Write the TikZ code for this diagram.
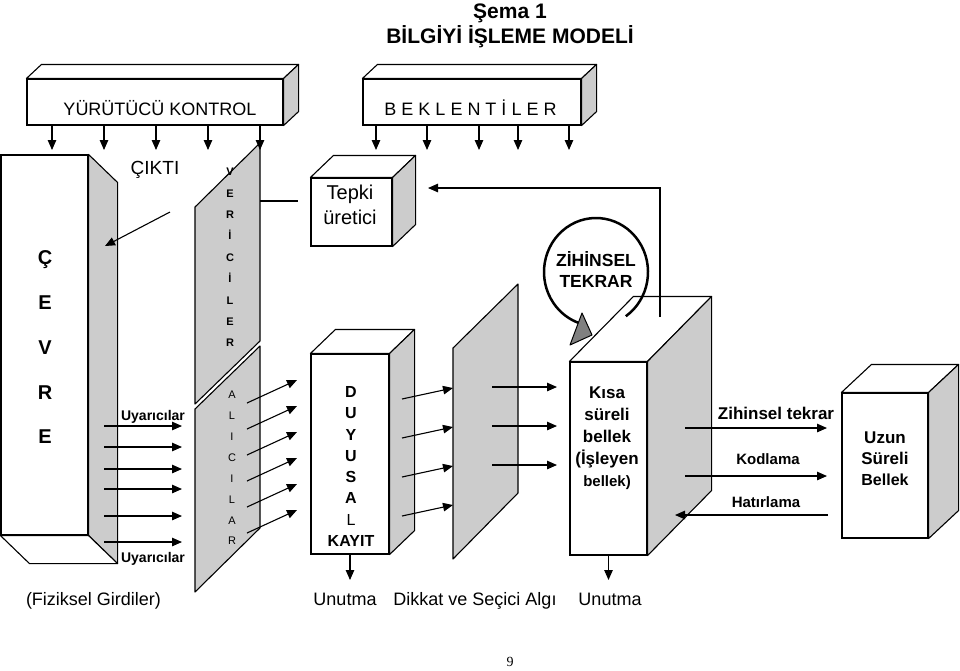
\documentclass[tikz,border=0pt]{standalone}
\usepackage{fontspec}
\setmainfont{Liberation Sans}
\newfontfamily\sayfafont{Liberation Serif}
\usetikzlibrary{arrows.meta}

\definecolor{yangri}{gray}{0.8}
\definecolor{okgri}{gray}{0.5}
\newcommand{\yazi}[1]{\fontsize{#1}{#1}\selectfont}
% on yuzu verilen kutuya ust ve yan yuz
\newcommand{\ucboyut}[3]{%
  \draw[yuz, fill=white] (#1.north west) -- ([shift={(#2,#3)}]#1.north west)
    -- ([shift={(#2,#3)}]#1.north east) -- (#1.north east) -- cycle;
  \draw[yuz, fill=yangri] (#1.north east) -- ([shift={(#2,#3)}]#1.north east)
    -- ([shift={(#2,#3)}]#1.south east) -- (#1.south east) -- cycle;}

\tikzset{
  kutu/.style={draw=black, fill=white, line width=1.1pt, inner sep=0pt},
  yuz/.style={draw=black, line width=1.1pt, line join=round},
  ok/.style={line width=1.1pt, -{Triangle[length=10pt,width=8.5pt]}},
  cizgi/.style={line width=1.1pt},
  metin/.style={inner sep=0pt, align=center},
  altyazi/.style={inner sep=0pt, anchor=base, font=\yazi{18}},
}

\begin{document}
\begin{tikzpicture}[x=1pt, y=-1pt]
\useasboundingbox (0,0) rectangle (960,670);

\node[metin, font=\fontsize{21}{25}\selectfont\bfseries] (baslik) at (510,25.5) {Şema 1\\BİLGİYİ İŞLEME MODELİ};

% ust kutular
\node[kutu, minimum width=256pt, minimum height=46pt] (yurutucu) at (155,102) {};
\ucboyut{yurutucu}{15}{-14}
\node[metin, font=\yazi{18}] (yurutucuyazi) at (160,108) {YÜRÜTÜCÜ KONTROL};
\node[kutu, minimum width=218pt, minimum height=46pt] (beklenti) at (472,102) {};
\ucboyut{beklenti}{15}{-14}
\node[metin, font=\yazi{18}] (beklentiyazi) at (470.5,108) {B E K L E N T İ L E R};

% cevre
\node[kutu, minimum width=87pt, minimum height=380pt] (cevre) at (44.5,345) {};
\draw[yuz, fill=yangri] (cevre.north east) -- ++(29,28) -- ([shift={(29,28)}]cevre.south east) -- (cevre.south east) -- cycle;
\draw[yuz, fill=white] (cevre.south west) -- ++(29,28) -- ([shift={(29,28)}]cevre.south east) -- (cevre.south east) -- cycle;
\node[metin, font=\fontsize{20}{44.75}\selectfont\bfseries] (cevreyazi) at (45,347.5) {Ç\\E\\V\\R\\E};
\node[metin, font=\yazi{19}] (cikti) at (155,170) {ÇIKTI};

% verici ve alici
\draw[yuz, fill=yangri] (195,207) -- (260,143) -- (260,341) -- (195,404) -- cycle;
\draw[yuz, fill=yangri] (195,409) -- (260,346) -- (260,528) -- (195,592) -- cycle;
\node[metin, font=\fontsize{11}{21.4}\selectfont\bfseries] (verici) at (230,257.5) {V\\E\\R\\İ\\C\\İ\\L\\E\\R};
\node[metin, font=\fontsize{11}{20.9}\selectfont] (alici) at (232,468) {A\\L\\I\\C\\I\\L\\A\\R};

% tepki
\node[kutu, minimum width=81pt, minimum height=68pt] (tepki) at (351.5,212) {};
\ucboyut{tepki}{23}{-22}
\node[metin, font=\fontsize{20}{25}\selectfont] (tepkiyazi) at (350,205) {Tepki\\üretici};

% duyusal kayit
\node[kutu, minimum width=78pt, minimum height=200pt] (duyusal) at (350,454) {};
\ucboyut{duyusal}{25}{-24}
\node[metin, font=\fontsize{16}{21.3}\selectfont\bfseries] (duyusalyazi) at (351,466.5) {D\\U\\Y\\U\\S\\A\\{\mdseries L}\\KAYIT};

% dikkat
\draw[yuz, fill=yangri] (453,348) -- (518,284) -- (518,493) -- (453,559) -- cycle;

% kisa sureli bellek
\node[kutu, minimum width=77pt, minimum height=193pt] (kisa) at (608.5,458.5) {};
\ucboyut{kisa}{64}{-65}
\node[metin, font=\fontsize{17}{22}\selectfont\bfseries] (kisayazi) at (607,438) {Kısa\\süreli\\bellek\\(İşleyen\\{\fontsize{15}{22}\selectfont bellek)}};

% uzun sureli bellek
\node[kutu, minimum width=86pt, minimum height=145pt] (uzun) at (885,465.5) {};
\ucboyut{uzun}{30}{-28}
\node[metin, font=\fontsize{17}{21}\selectfont\bfseries] (uzunyazi) at (885,459) {Uzun\\Süreli\\{\fontsize{16}{21}\selectfont Bellek}};

% zihinsel tekrar halkasi
\coordinate (halka) at (596,272);
\draw[line width=2.5pt] ([shift={(55:52 and 54)}]halka) arc[start angle=55, end angle=-252, x radius=52, y radius=54];
\filldraw[fill=okgri, draw=black, line width=1pt, line join=round] (582,313) -- (592,335) -- (570,345) -- cycle;
\node[metin, font=\fontsize{17.5}{21}\selectfont\bfseries] (zihinsel) at (596,269) {ZİHİNSEL\\TEKRAR};

% oklar
\foreach \x [count=\i] in {52,104,156,208,260} {
  \coordinate (yok\i) at (\x,150);
  \draw[ok] (yurutucu.south -| yok\i) -- (yok\i);
}
\foreach \x [count=\i] in {376,427,479,518,569} {
  \coordinate (bok\i) at (\x,150);
  \draw[ok] (beklenti.south -| bok\i) -- (bok\i);
}

\coordinate (ciktibas) at (170,212);
\coordinate (ciktiuc) at (105,246);
\draw[ok] (ciktibas) -- (ciktiuc);

\coordinate (vericisag) at (260,201);
\coordinate (tepkisol) at (298,201);
\draw[cizgi] (vericisag) -- (tepkisol);

\coordinate (geribas) at (660,317);
\coordinate (tepkiuc) at (428,188);
\draw[ok] (geribas) |- (tepkiuc);

\foreach \y [count=\i] in {426,447,469,489,516,542} {
  \coordinate (ubas\i) at (104,\y);
  \coordinate (uuc\i) at (182,\y);
  \draw[ok] (ubas\i) -- (uuc\i);
}
\node[metin, font=\yazi{14}\bfseries] (uyarici1) at (153,417) {Uyarıcılar};
\node[metin, font=\yazi{14}\bfseries] (uyarici2) at (153,559) {Uyarıcılar};

\foreach \y [count=\i] in {403,429,455,481,507,533} {
  \coordinate (abas\i) at (247,\y);
  \coordinate (auc\i) at (297,\y-23);
  \draw[ok] (abas\i) -- (auc\i);
}
\foreach \y [count=\i] in {399,438,477,516} {
  \coordinate (dbas\i) at (402,\y);
  \coordinate (duc\i) at (453,\y-11);
  \draw[ok] (dbas\i) -- (duc\i);
}
\foreach \y [count=\i] in {387,426,465} {
  \coordinate (sbas\i) at (492,\y);
  \coordinate (suc\i) at (557,\y);
  \draw[ok] (sbas\i) -- (suc\i);
}

% uzun sureli bellege
\coordinate (zbas) at (685,428);
\coordinate (zuc) at (827,428);
\draw[ok] (zbas) -- (zuc);
\coordinate (kbas) at (685,476);
\coordinate (kuc) at (827,476);
\draw[ok] (kbas) -- (kuc);
\coordinate (hbas) at (828,515);
\coordinate (huc) at (675,515);
\draw[ok] (hbas) -- (huc);
\node[metin, font=\yazi{17}\bfseries] (zihinseltekrar) at (776,413) {Zihinsel tekrar};
\node[metin, font=\yazi{15}\bfseries] (kodlama) at (768,459) {Kodlama};
\node[metin, font=\yazi{15}\bfseries] (hatirlama) at (766,502) {Hatırlama};

% unutma
\coordinate (unutmaok1) at (350,580);
\coordinate (unutmaok2) at (608.5,580);
\draw[ok] (duyusal.south) -- (unutmaok1);
\draw[ok] (kisa.south) -- (unutmaok2);
\node[altyazi] (unutma1) at (345,605.5) {Unutma};
\node[altyazi] (unutma2) at (610,605.5) {Unutma};
\node[altyazi] (dikkatyazi) at (475,605.5) {Dikkat ve Seçici Algı};
\node[altyazi] (fiziksel) at (93.5,605.5) {(Fiziksel Girdiler)};

\node[metin, font=\sayfafont\yazi{14}] (sayfa) at (510,662) {9};
\end{tikzpicture}
\end{document}
